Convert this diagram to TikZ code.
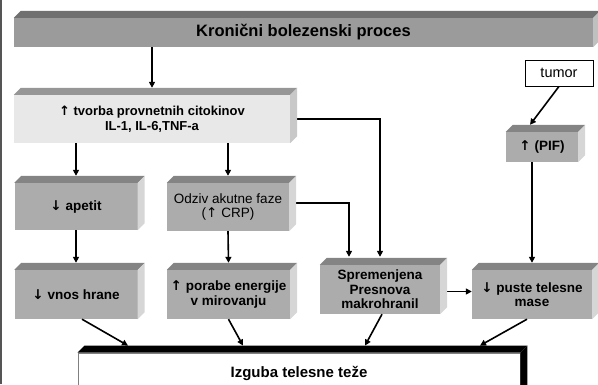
\documentclass[tikz,border=0pt]{standalone}
\usepackage{fontspec}
\setmainfont{Liberation Sans}
\newfontfamily\strelice{DejaVu Sans}
\usepackage{tikz}
\usetikzlibrary{arrows.meta}
\definecolor{sivaspr}{RGB}{172,172,172}
\definecolor{sivavrh}{RGB}{132,132,132}
\definecolor{sivabok}{RGB}{214,214,214}
\definecolor{naslovspr}{RGB}{155,155,155}
\definecolor{naslovvrh}{RGB}{112,112,112}
\definecolor{naslovbok}{RGB}{192,192,192}
\definecolor{svetla}{RGB}{232,232,232}
\definecolor{svetlavrh}{RGB}{150,150,150}
\definecolor{svetlabok}{RGB}{200,200,200}
\definecolor{rob}{RGB}{85,85,85}
\tikzset{
    blok/.style={rectangle,fill=sivaspr,inner sep=1pt,align=center,font=\fontsize{13.5}{14.5}\selectfont\bfseries},
    navaden/.style={font=\fontsize{13.5}{14.5}\selectfont},
    svetli/.style={blok,fill=svetla,font=\fontsize{13}{15}\selectfont\bfseries},
    naslov/.style={blok,fill=naslovspr,font=\fontsize{16.5}{18}\selectfont\bfseries},
    okvir/.style={rectangle,draw,fill=white,line width=0.8pt,inner sep=1pt,font=\fontsize{14.5}{16}\selectfont},
    cilj/.style={rectangle,draw=gray,fill=white,line width=0.8pt,inner sep=1pt,font=\fontsize{15}{17}\selectfont\bfseries},
    arr/.style={-{Triangle[length=6pt,width=6pt]},line width=1.6pt},
}
\newcommand{\gor}{{\strelice ↑}}
\newcommand{\dol}{{\strelice ↓}}
% top and side face of a box: node, top colour, side colour
\newcommand{\kocka}[3]{%
    \fill[#2] (#1.north west) -- ++(7,-7) -- ([shift={(7,-7)}]#1.north east) -- (#1.north east) -- cycle;
    \fill[#3] (#1.north east) -- ++(7,-7) -- ([shift={(7,-7)}]#1.south east) -- (#1.south east) -- cycle;}

\begin{document}
\begin{tikzpicture}[x=1pt,y=-1pt]
\useasboundingbox (0,0) rectangle (598,384);
\draw[rob,line width=2pt] (1,0) -- (1,384);

\node[naslov,minimum width=579pt,minimum height=29pt] (kron) at (303.5,32.5) {Kronični bolezenski proces};
\node[svetli,minimum width=276pt,minimum height=48pt] (tvorba) at (152,119) {\gor{} tvorba provnetnih citokinov\\IL-1, IL-6,TNF-a};
\node[okvir,minimum width=68pt,minimum height=26pt] (tumor) at (559,73) {tumor};
\node[blok,minimum width=72pt,minimum height=30pt] (pif) at (542,147) {\gor{} (PIF)};
\node[blok,minimum width=123pt,minimum height=47pt] (apetit) at (76,206.5) {\dol{} apetit};
\node[blok,navaden,minimum width=122pt,minimum height=48pt] (odziv) at (228,207) {Odziv akutne faze\\(\gor{} CRP)};
\node[blok,minimum width=123pt,minimum height=49pt] (vnos) at (76,294.5) {\dol{} vnos hrane};
\node[blok,minimum width=123pt,minimum height=49pt] (porabe) at (228.5,294.5) {\gor{} porabe energije\\v mirovanju};
\node[blok,minimum width=120pt,minimum height=49pt] (sprem) at (380,289.5) {Spremenjena\\Presnova\\makrohranil};
\node[blok,minimum width=120pt,minimum height=49pt] (puste) at (532,294.5) {\dol{} puste telesne\\mase};
\node[cilj,minimum width=442pt,minimum height=40pt] (izguba) at (299,373) {Izguba telesne teže};

\draw[arr] (kron.south -| tvorba.north) -- ([yshift=7pt]tvorba.north);
\draw[arr] (tvorba.south -| apetit.north) -- ([yshift=7pt]apetit.north);
\draw[arr] (tvorba.south -| odziv.north) -- ([yshift=7pt]odziv.north);
\draw[arr] (tvorba.east) -| ([yshift=8pt]sprem.north);
\draw[arr] ([yshift=4pt]odziv.east) -| ([xshift=-31pt,yshift=8pt]sprem.north);
\draw[arr] (tumor.south) -- ([xshift=-12pt,yshift=7pt]pif.north);
\draw[arr] (pif.south -| puste.north) -- ([yshift=7pt]puste.north);
\draw[arr] (apetit.south) -- ([yshift=7pt]vnos.north);
\draw[arr] (odziv.south) -- ([yshift=7pt]porabe.north);
\draw[arr] ([xshift=7pt,yshift=-2pt]sprem.east) -- ([yshift=-2pt]puste.west |- sprem.east);
\draw[arr] ([xshift=6pt]vnos.south) -- ([xshift=-171pt,yshift=7pt]izguba.north);
\draw[arr] (porabe.south) -- ([xshift=-56pt,yshift=7pt]izguba.north);
\draw[arr] ([xshift=2pt]sprem.south) -- ([xshift=66pt,yshift=7pt]izguba.north);
\draw[arr] ([xshift=-5pt]puste.south) -- ([xshift=181pt,yshift=7pt]izguba.north);

\kocka{kron}{naslovvrh}{naslovbok}
\kocka{tvorba}{svetlavrh}{svetlabok}
\kocka{pif}{sivavrh}{sivabok}
\kocka{apetit}{sivavrh}{sivabok}
\kocka{odziv}{sivavrh}{sivabok}
\kocka{vnos}{sivavrh}{sivabok}
\kocka{porabe}{sivavrh}{sivabok}
\kocka{sprem}{sivavrh}{sivabok}
\kocka{puste}{sivavrh}{sivabok}
\kocka{izguba}{black}{black}
\end{tikzpicture}
\end{document}
